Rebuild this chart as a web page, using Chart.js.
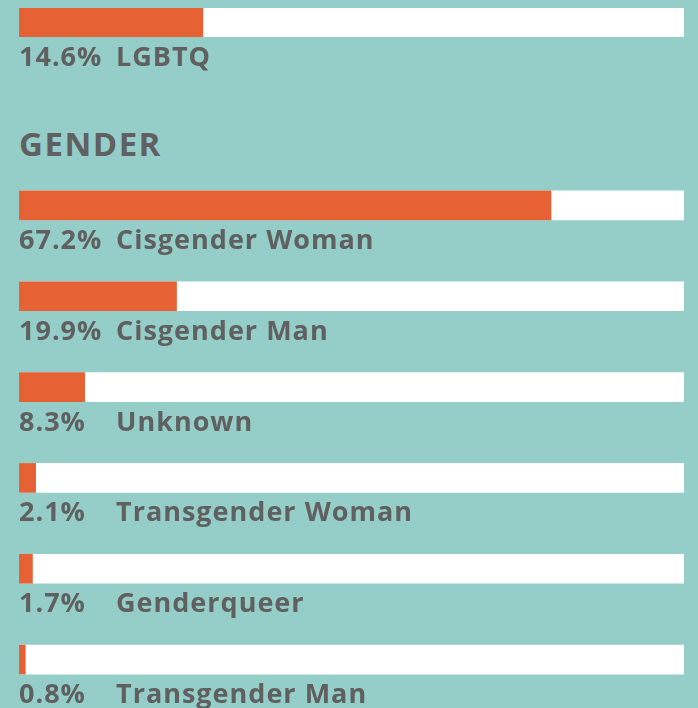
<!DOCTYPE html>
<html>
<head>
<meta charset="utf-8">
<script src="https://cdn.jsdelivr.net/npm/chart.js@4/dist/chart.umd.min.js"></script>
<style>
  html, body { margin: 0; padding: 0; background: #95cec9; }
  body { width: 698px; height: 708px; position: relative; overflow: hidden; }
  .box { position: absolute; left: 0; width: 698px; }
  #heading {
    position: absolute; left: 19px; top: 121px; margin: 0;
    font: bold 33px "Open Sans", sans-serif; letter-spacing: 1.5px; color: #5f605f;
  }
</style>
</head>
<body>
<div class="box" style="top:0; height:80px;"><canvas id="orientChart"></canvas></div>
<h2 id="heading">GENDER</h2>
<div class="box" style="top:100px; height:608px;"><canvas id="genderChart"></canvas></div>
<script>
  // orientation (top section, cut off)
  const orientLabels = ["LGBTQ"];
  const orientValues = [14.6];
  const orientMax = 52.8;

  // gender
  const genderLabels = ["Cisgender Woman", "Cisgender Man", "Unknown", "Transgender Woman", "Genderqueer", "Transgender Man"];
  const genderValues = [67.2, 19.9, 8.3, 2.1, 1.7, 0.8];
  const genderMax = 84;

  const orange = "#e66234";
  const textColor = "#5f605f";

  // writes "67.2%   Cisgender Woman" under every bar
  const underLabels = {
    id: "underLabels",
    afterDatasetsDraw(chart) {
      const ctx = chart.ctx;
      const meta = chart.getDatasetMeta(1);
      ctx.save();
      ctx.font = "bold 27px 'Open Sans', sans-serif";
      ctx.letterSpacing = "1px";
      ctx.fillStyle = textColor;
      ctx.textBaseline = "alphabetic";
      ctx.textAlign = "left";
      meta.data.forEach(function (bar, i) {
        const bottom = bar.y + bar.height / 2;
        const value = chart.data.datasets[1].data[i];
        ctx.fillText(value.toFixed(1) + "%", 19, bottom + 29);
        ctx.fillText(chart.data.labels[i], 116, bottom + 29);
      });
      ctx.restore();
    }
  };

  function makeChart(id, labels, values, max, padding) {
    const ctx = document.getElementById(id).getContext("2d");
    return new Chart(ctx, {
      type: "bar",
      data: {
        labels: labels,
        datasets: [
          {
            data: labels.map(function () { return max; }),
            backgroundColor: "#ffffff",
            barThickness: 29,
            grouped: false,
            order: 2
          },
          {
            data: values,
            backgroundColor: orange,
            barThickness: 29,
            grouped: false,
            order: 1
          }
        ]
      },
      options: {
        indexAxis: "y",
        responsive: true,
        maintainAspectRatio: false,
        animation: false,
        layout: { padding: padding },
        plugins: { legend: { display: false }, tooltip: { enabled: false } },
        scales: {
          x: { display: false, min: 0, max: max },
          y: { display: false }
        }
      },
      plugins: [underLabels]
    });
  }

  makeChart("orientChart", orientLabels, orientValues, orientMax, { top: 8, bottom: 43, left: 19, right: 14 });
  // gender canvas starts at y=100; bar rows 90.8px apart, first bar top at 191
  makeChart("genderChart", genderLabels, genderValues, genderMax, { top: 60, bottom: 3, left: 19, right: 14 });
</script>
</body>
</html>
